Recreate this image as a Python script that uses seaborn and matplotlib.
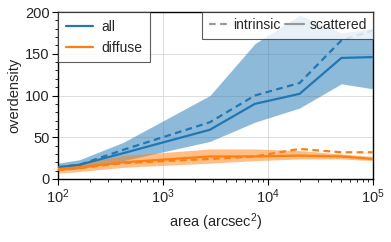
import numpy as np
import pandas as pd
import matplotlib
matplotlib.use("Agg")
import matplotlib.pyplot as plt
import seaborn as sns
from matplotlib.lines import Line2D
from matplotlib.ticker import MultipleLocator, LogLocator, NullFormatter

# ---- data ----
area = [100, 160, 420, 2800, 7500, 20000, 50000, 100000]

all_scattered = [14, 17, 31, 59, 90, 102, 145, 146]
all_intrinsic = [14, 17, 35, 68, 100, 115, 166, 178]
all_upper = [19, 23, 44, 100, 162, 196, 175, 180]
all_lower = [10, 12, 22, 45, 68, 85, 114, 108]

diffuse_scattered = [12, 14, 20, 27, 27, 28, 27, 24]
diffuse_intrinsic = [11, 13, 19, 24, 27, 36, 32, 32]
diffuse_upper = [17, 19, 28, 36, 36, 34, 30, 27]
diffuse_lower = [7, 9, 14, 19, 22, 24, 24, 22]

series_labels = ["all", "diffuse"]
kind_labels = ["intrinsic", "scattered"]

blue = "#1f77b4"
orange = "#ff7f0e"

sns.set_theme(style="ticks")
plt.rcParams["font.family"] = ["Liberation Sans", "DejaVu Sans"]
plt.rcParams["mathtext.fontset"] = "custom"
plt.rcParams["mathtext.rm"] = "Liberation Sans"
plt.rcParams["mathtext.it"] = "Liberation Sans:italic"
plt.rcParams["mathtext.bf"] = "Liberation Sans:bold"

fig = plt.figure(figsize=(3.91, 2.42), dpi=100)
ax = fig.add_axes([58/391, 1-179/242, (373-58)/391, (179-12)/242])

rows = []
for name, sc, it in [("all", all_scattered, all_intrinsic),
                     ("diffuse", diffuse_scattered, diffuse_intrinsic)]:
    for a, v in zip(area, sc):
        rows.append(dict(area=a, value=v, group=name, kind="scattered"))
    for a, v in zip(area, it):
        rows.append(dict(area=a, value=v, group=name, kind="intrinsic"))
df = pd.DataFrame(rows)

ax.fill_between(area, all_lower, all_upper, color=blue, alpha=0.5, lw=0, zorder=1)
ax.fill_between(area, diffuse_lower, diffuse_upper, color=orange, alpha=0.5, lw=0, zorder=1)

sns.lineplot(data=df, x="area", y="value", hue="group", style="kind",
             palette={"all": blue, "diffuse": orange},
             dashes={"scattered": "", "intrinsic": (3, 2)},
             style_order=["scattered", "intrinsic"],
             lw=1.6, ax=ax, legend=False, zorder=3)

ax.set_xscale("log")
ax.set_xlim(100, 100000)
ax.set_ylim(0, 200)
ax.yaxis.set_major_locator(MultipleLocator(50))
ax.yaxis.set_minor_locator(MultipleLocator(10))
ax.xaxis.set_minor_locator(LogLocator(base=10, subs=np.arange(2, 10)))
ax.xaxis.set_minor_formatter(NullFormatter())
ax.grid(True, which="major", color="#dddddd", lw=0.7, zorder=0)
ax.set_axisbelow(True)

for s in ax.spines.values():
    s.set_color("black")
    s.set_linewidth(1.0)
ax.tick_params(which="major", length=4, width=0.8, labelsize=10.5, color="black",
               pad=2, top=False, right=False)
ax.tick_params(which="minor", length=2.2, width=0.6, color="black", top=False, right=False)

ax.set_xlabel("area (arcsec$^2$)", fontsize=10.5, labelpad=4)
ax.set_ylabel("overdensity", fontsize=10.5, labelpad=3)

h1 = [Line2D([], [], color=blue, lw=1.6), Line2D([], [], color=orange, lw=1.6)]
leg1 = ax.legend(h1, series_labels, loc="upper left", fontsize=10,
                 borderaxespad=0, fancybox=False, edgecolor="#333333",
                 framealpha=0.8, handlelength=2.0, handletextpad=0.6,
                 borderpad=0.55, labelspacing=0.5)
leg1.get_frame().set_linewidth(0.8)
ax.add_artist(leg1)
h2 = [Line2D([], [], color="#999999", lw=1.6, ls=(0, (3, 2))),
      Line2D([], [], color="#999999", lw=1.6)]
leg2 = ax.legend(h2, kind_labels, loc="upper right", ncol=2, fontsize=10,
                 borderaxespad=0, fancybox=False, edgecolor="#333333",
                 framealpha=0.8, handlelength=1.35, handletextpad=0.4,
                 columnspacing=0.35, borderpad=0.45)
leg2.get_frame().set_linewidth(0.8)

fig.savefig("out.png", dpi=100)
